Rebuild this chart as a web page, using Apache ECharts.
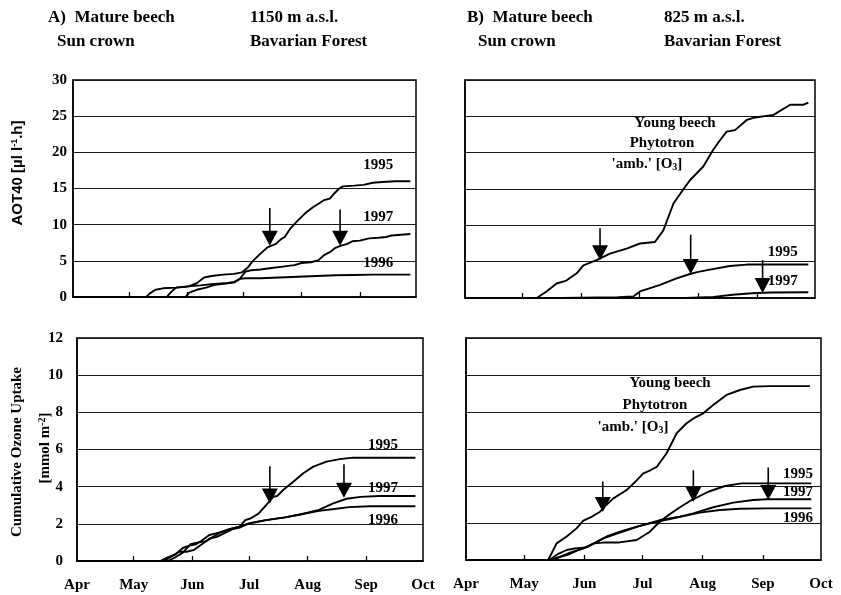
<!DOCTYPE html>
<html><head><meta charset="utf-8">
<script src="https://cdn.jsdelivr.net/npm/echarts@6/dist/echarts.min.js"></script>
<style>html,body{margin:0;padding:0;background:#fff}#c{width:841px;height:595px}</style>
</head><body><div id="c"></div>
<script>
// ---- axis definitions (days since 1 April) ----
const monthDays = [0, 30, 61, 91, 122, 153, 183];
const monthLabels = ['Apr', 'May', 'Jun', 'Jul', 'Aug', 'Sep', 'Oct'];
const aotMax = 30, aotStep = 5;
const uptakeMax = 12, uptakeStep = 2;

// ---- A) 1150 m, AOT40 ----
const aotA1995 = [[0,0],[39,0],[41,0.5],[44,1.0],[48,1.2],[55,1.3],[62,1.5],[66,1.9],[70,2.7],[74,2.9],[80,3.1],[86,3.2],[90,3.4],[93,4.0],[96,5.0],[100,6.0],[104,6.9],[106,7.1],[108,7.3],[111,8.0],[113,8.3],[116,9.5],[120,10.6],[124,11.6],[128,12.4],[131,12.9],[134,13.4],[137,13.6],[139,14.2],[142,15.0],[144,15.3],[150,15.4],[155,15.5],[160,15.8],[165,15.9],[172,16.0],[180,16.0]];
const aotA1996 = [[0,0],[50,0],[52,0.6],[55,1.3],[60,1.4],[63,1.5],[68,1.6],[75,1.8],[82,1.9],[86,2.0],[89,2.5],[92,2.6],[100,2.6],[110,2.7],[120,2.8],[130,2.9],[140,3.0],[150,3.05],[160,3.1],[180,3.1]];
const aotA1997 = [[0,0],[60,0],[62,0.6],[66,1.0],[71,1.3],[76,1.7],[82,1.9],[86,2.1],[89,2.5],[92,3.5],[95,3.7],[100,3.8],[106,4.0],[112,4.2],[118,4.4],[122,4.7],[127,4.8],[131,5.1],[134,5.8],[137,6.2],[140,6.8],[143,7.1],[146,7.3],[149,7.7],[153,7.8],[158,8.1],[163,8.2],[167,8.3],[170,8.5],[175,8.6],[180,8.7]];

// ---- B) 825 m, AOT40 ----
const aotBYoung = [[0,0],[37.5,0],[42.6,0.9],[47.9,2.0],[53,2.4],[58.4,3.4],[61.9,4.5],[68.8,5.2],[75.8,6.1],[84.5,6.8],[91.5,7.5],[99.3,7.7],[103.7,9.3],[109,13.0],[114,14.9],[117.6,16.2],[124.6,18.1],[129.8,20.4],[133.3,21.7],[136.8,22.9],[141.2,23.1],[147.3,24.5],[150.8,24.8],[161.3,25.2],[170,26.6],[177,26.6],[179.5,26.9]];
const aotB1995 = [[0,0],[50,0],[80,0.1],[88,0.2],[91.5,0.9],[96,1.3],[102,1.8],[110.6,2.7],[117.6,3.3],[122,3.6],[128,3.9],[138.5,4.4],[147.3,4.6],[160,4.6],[179.5,4.6]];
const aotB1997 = [[0,0],[115,0],[130,0.15],[140,0.45],[150,0.65],[160,0.75],[179.5,0.8]];

// ---- A) 1150 m, cumulative uptake ----
const upA1995 = [[0,0],[44,0],[48,0.2],[52,0.35],[56,0.7],[60,0.85],[63,0.9],[66,1.1],[70,1.4],[74,1.5],[78,1.6],[82,1.75],[86,1.85],[89,2.2],[92,2.3],[96,2.55],[100,3.0],[103.8,3.46],[106,3.5],[109,3.82],[114.4,4.27],[119.7,4.72],[125,5.08],[132,5.35],[139,5.48],[146,5.56],[160,5.56],[179,5.56]];
const upA1996 = [[0,0],[46,0],[50,0.25],[54,0.5],[58,0.5],[62,0.6],[66,0.9],[70,1.2],[74,1.3],[78,1.5],[82,1.7],[86,1.8],[90,2.0],[95,2.1],[100,2.2],[110,2.35],[118,2.5],[128,2.7],[136,2.8],[144,2.9],[155,2.95],[179,2.95]];
const upA1997 = [[0,0],[48,0],[52,0.2],[56,0.45],[60,0.9],[64,1.0],[68,1.05],[72,1.3],[76,1.55],[80,1.7],[84,1.8],[88,1.9],[92,2.05],[100,2.2],[110,2.35],[118,2.5],[128,2.75],[135.5,3.1],[142.6,3.35],[150,3.45],[160,3.5],[179,3.5]];

// ---- B) 825 m, cumulative uptake ----
const upBYoung = [[0,0],[42.4,0],[46.7,0.9],[51.9,1.27],[57,1.71],[60.5,2.13],[65,2.35],[69.1,2.61],[72,2.95],[76,3.33],[82.8,3.78],[87,4.2],[91.4,4.68],[95,4.85],[98.3,5.03],[103.4,5.77],[108.6,6.85],[113.7,7.39],[118,7.7],[122.3,7.93],[127.4,8.38],[134.3,8.92],[141.2,9.19],[148,9.37],[156.6,9.4],[177.3,9.4]];
const upB1995 = [[0,0],[43,0],[48,0.15],[53,0.3],[58,0.54],[62,0.7],[66,0.9],[72,0.95],[79,0.95],[88,1.08],[94.8,1.53],[99.2,2.0],[104,2.4],[109.5,2.8],[116.3,3.24],[124.9,3.69],[133.5,4.0],[142,4.14],[160,4.14],[178,4.14]];
const upB1996 = [[0,0],[43,0],[47,0.3],[51.9,0.54],[56,0.62],[62.2,0.68],[66,0.9],[70.8,1.17],[79.4,1.48],[89.7,1.84],[100,2.16],[110.3,2.34],[120.6,2.56],[130.9,2.7],[141.2,2.77],[155,2.79],[178,2.79]];
const upB1997 = [[0,0],[44,0],[49,0.2],[53.6,0.4],[60.5,0.63],[66,0.9],[72.5,1.27],[79.4,1.53],[88,1.8],[96.6,2.02],[106.9,2.25],[117.2,2.52],[127.5,2.85],[137.8,3.1],[148,3.24],[155,3.28],[178,3.28]];

// ---- arrows: [day, value at shaft top, value at tip] ----
const arrowsTL = [[105,12.3,7.1],[142.5,12.1,7.1]];
const arrowsTR = [[70.6,9.6,5.2],[118,8.7,3.3],[155.6,5.2,0.7]];
const arrowsBL = [[102,5.1,3.1],[141.2,5.2,3.4]];
const arrowsBR = [[70.5,4.25,2.6],[117.2,4.85,3.15],[155.8,5.0,3.25]];

// ---- curve labels: [day, value, text] ----
const labelsTL = [[162.8,18.3,'1995'],[162.8,11.1,'1997'],[162.8,4.7,'1996']];
const labelsTR = [[109.8,24.1,'Young beech'],[103,21.3,'Phytotron'],[95.1,18.4,"'amb.' [O{sub|3}]"],[166.2,6.3,'1995'],[166.2,2.3,'1997']];
const labelsBL = [[161.8,6.24,'1995'],[161.8,3.93,'1997'],[161.8,2.2,'1996']];
const labelsBR = [[105.2,9.57,'Young beech'],[97.4,8.38,'Phytotron'],[86.1,7.19,"'amb.' [O{sub|3}]"],[171.1,4.65,'1995'],[171.1,3.68,'1997'],[171.1,2.27,'1996']];

const SERIF = "'Liberation Serif','Times New Roman',serif";
const SANS = "'Liberation Sans',Arial,sans-serif";

const grids = [
  {left:73, top:80, width:343, height:217},
  {left:465, top:80, width:350, height:218},
  {left:77, top:338, width:346, height:223},
  {left:466, top:338, width:355, height:222}
];

function xAxisFor(i, showLabels) {
  return {
    type:'value', gridIndex:i, min:0, max:183,
    axisLine:{show:true, onZero:false, lineStyle:{color:'#000', width:1.5}},
    axisTick:{show:true, inside:true, length:5, customValues:monthDays.slice(1,6), lineStyle:{color:'#000', width:1.3}},
    splitLine:{show:false},
    axisLabel:{show:showLabels, customValues:monthDays, margin:17,
      formatter:(v)=>monthLabels[monthDays.indexOf(v)],
      fontFamily:SERIF, fontWeight:'bold', fontSize:15, color:'#000'}
  };
}
function yAxisFor(i, max, step, showLabels, margin) {
  return {
    type:'value', gridIndex:i, min:0, max:max, interval:step,
    axisLine:{show:true, lineStyle:{color:'#000', width:1.5}},
    axisTick:{show:false},
    splitLine:{show:true, lineStyle:{color:'#1a1a1a', width:1}},
    axisLabel:{show:showLabels, margin:margin, fontFamily:SERIF, fontWeight:'bold', fontSize:15, color:'#000'}
  };
}
function lineSeries(i, data) {
  return {type:'line', xAxisIndex:i, yAxisIndex:i, data:data, symbol:'none', showSymbol:false,
    lineStyle:{color:'#000', width:1.9}, z:3, silent:true, animation:false};
}
function arrowSeries(i, data) {
  return {type:'custom', xAxisIndex:i, yAxisIndex:i, data:data, z:5, silent:true, animation:false,
    renderItem:(params, api)=>{
      const top = api.coord([api.value(0), api.value(1)]);
      const tip = api.coord([api.value(0), api.value(2)]);
      const hw = 8, hh = 15;
      return {type:'group', children:[
        {type:'line', shape:{x1:top[0], y1:top[1], x2:tip[0], y2:tip[1]-hh+1}, style:{stroke:'#000', lineWidth:1.6}},
        {type:'polygon', shape:{points:[[tip[0]-hw, tip[1]-hh],[tip[0]+hw, tip[1]-hh],[tip[0], tip[1]]]}, style:{fill:'#000'}}
      ]};
    }};
}
function labelSeries(i, data) {
  return {type:'scatter', xAxisIndex:i, yAxisIndex:i, symbolSize:0, z:6, silent:true, animation:false,
    itemStyle:{opacity:1, color:'#000'},
    data:data.map(d=>({value:[d[0], d[1]], name:d[2]})),
    label:{show:true, position:'inside', formatter:'{b}', fontFamily:SERIF, fontWeight:'bold', fontSize:15,
      color:'#000', opacity:1, textBorderWidth:0, textBorderColor:'transparent',
      rich:{sub:{fontFamily:SERIF, fontWeight:'bold', fontSize:10, color:'#000', verticalAlign:'bottom', padding:[6,0,0,0]}}}};
}

const titleStyle = {fontFamily:SERIF, fontWeight:'bold', fontSize:17, fill:'#000'};
function txt(x, y, text) {
  return {type:'text', left:x, top:y, style:Object.assign({text:text}, titleStyle)};
}

const option = {
  animation:false,
  backgroundColor:'#fff',
  grid: grids.map(g=>Object.assign({show:true, borderColor:'#000', borderWidth:1.5, backgroundColor:'transparent', containLabel:false}, g)),
  xAxis:[xAxisFor(0,false), xAxisFor(1,false), xAxisFor(2,true), xAxisFor(3,true)],
  yAxis:[yAxisFor(0,aotMax,aotStep,true,6), yAxisFor(1,aotMax,aotStep,false,6),
         yAxisFor(2,uptakeMax,uptakeStep,true,14), yAxisFor(3,uptakeMax,uptakeStep,false,14)],
  series:[
    lineSeries(0,aotA1995), lineSeries(0,aotA1996), lineSeries(0,aotA1997),
    lineSeries(1,aotBYoung), lineSeries(1,aotB1995), lineSeries(1,aotB1997),
    lineSeries(2,upA1995), lineSeries(2,upA1996), lineSeries(2,upA1997),
    lineSeries(3,upBYoung), lineSeries(3,upB1995), lineSeries(3,upB1996), lineSeries(3,upB1997),
    arrowSeries(0,arrowsTL), arrowSeries(1,arrowsTR), arrowSeries(2,arrowsBL), arrowSeries(3,arrowsBR),
    labelSeries(0,labelsTL), labelSeries(1,labelsTR), labelSeries(2,labelsBL), labelSeries(3,labelsBR)
  ],
  graphic:[
    txt(48, 9, 'A)  Mature beech'), txt(250, 9, '1150 m a.s.l.'),
    txt(57, 33, 'Sun crown'), txt(250, 33, 'Bavarian Forest'),
    txt(467, 9, 'B)  Mature beech'), txt(664, 9, '825 m a.s.l.'),
    txt(478, 33, 'Sun crown'), txt(664, 33, 'Bavarian Forest'),
    {type:'text', x:18, y:173, rotation:Math.PI/2,
      style:{text:'AOT40 [µl l{sup|-1}.h]', fontFamily:SANS, fontWeight:'bold', fontSize:15, fill:'#000',
        align:'center', verticalAlign:'middle',
        rich:{sup:{fontFamily:SANS, fontWeight:'bold', fontSize:9, fill:'#000', verticalAlign:'top'}}}},
    {type:'text', x:17, y:452, rotation:Math.PI/2,
      style:{text:'Cumulative Ozone Uptake', fontFamily:SERIF, fontWeight:'bold', fontSize:15, fill:'#000',
        align:'center', verticalAlign:'middle'}},
    {type:'text', x:45, y:448, rotation:Math.PI/2,
      style:{text:'[mmol m{sup|-2}]', fontFamily:SERIF, fontWeight:'bold', fontSize:15, fill:'#000',
        align:'center', verticalAlign:'middle',
        rich:{sup:{fontFamily:SERIF, fontWeight:'bold', fontSize:10, fill:'#000', verticalAlign:'top'}}}}
  ]
};

const chart = echarts.init(document.getElementById('c'), null, {renderer:'canvas'});
chart.setOption(option);
</script>
</body></html>
